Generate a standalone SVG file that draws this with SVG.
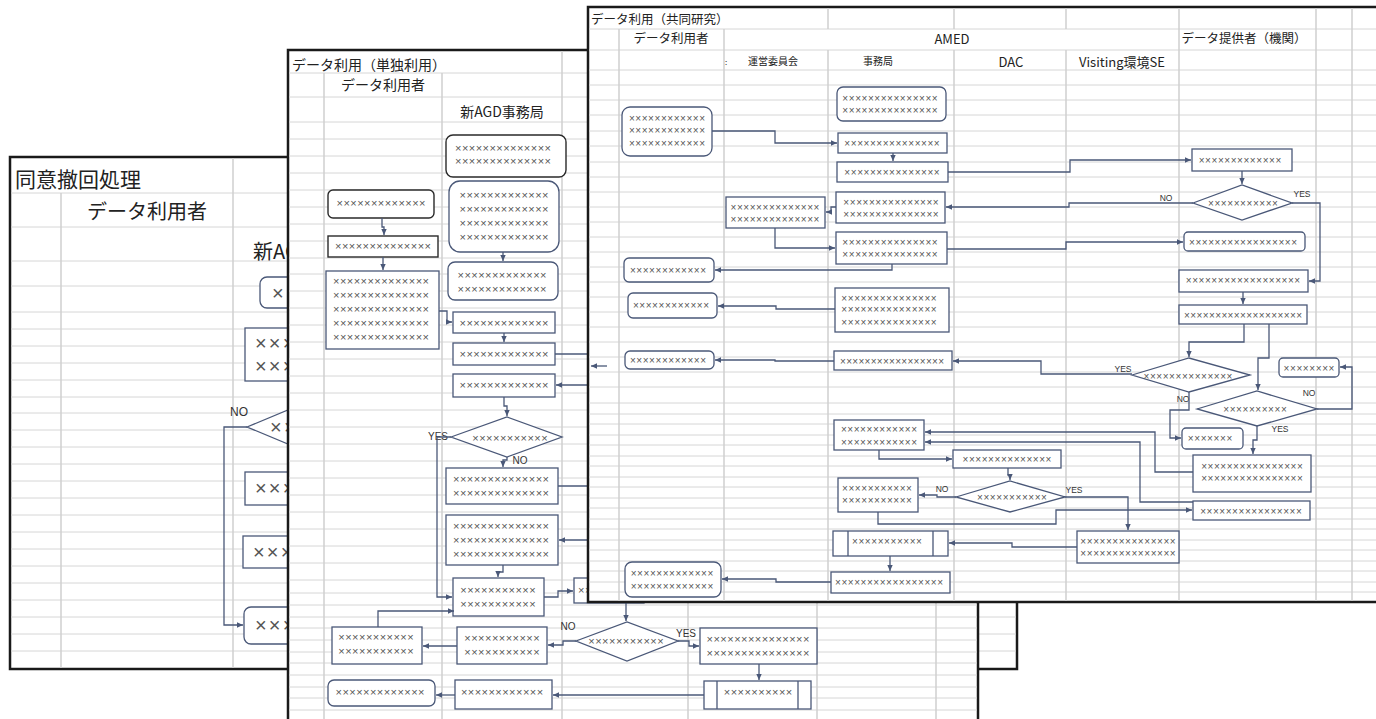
<svg xmlns="http://www.w3.org/2000/svg" width="1376" height="719" viewBox="0 0 1376 719">
<defs>
<style>
.sheet{fill:#fff;stroke:#1a1a1a;stroke-width:2.5}
.gr{fill:none;stroke:#d6d6d6;stroke-width:1}
.gc{fill:none;stroke:#d0d0d0;stroke-width:1.5}
.n{fill:#fff;stroke:#4a5878;stroke-width:1.3}
.nd{fill:#fff;stroke:#2a2a2a;stroke-width:1.4}
.c{fill:none;stroke:#4a5878;stroke-width:1.3}
.ca{fill:none;stroke:#4a5878;stroke-width:1.3;marker-end:url(#ah)}
.x{font-family:"Liberation Sans",Arial,sans-serif;fill:#555;text-anchor:middle;dominant-baseline:central}
.xs{font-size:10px}
.xm{font-size:11px}
.xb{font-size:20px;text-anchor:start}
.h{font-family:"Noto Sans CJK JP","Noto Sans",sans-serif;fill:#222;dominant-baseline:central}
.l{font-family:"Liberation Sans",Arial,sans-serif;fill:#333;text-anchor:middle;dominant-baseline:central}
</style>
<marker id="ah" markerWidth="7" markerHeight="7" refX="6" refY="3.5" orient="auto" markerUnits="userSpaceOnUse"><path d="M0,0.8 L6,3.5 L0,6.2 Z" fill="#4a5878"/></marker>
</defs>
<rect width="1376" height="719" fill="#fff"/>

<!-- ================= BACK SHEET ================= -->
<g id="sheet-back">
<rect class="sheet" x="10" y="157" width="1007" height="512"/>
<path class="gr" d="M11 193H1016M11 227H1016M11 261H1016M11 286H1016M11 312H1016M11 329H1016M11 346H1016M11 363H1016M11 380H1016M11 397H1016M11 413H1016M11 430H1016M11 447H1016M11 464H1016M11 481H1016M11 498H1016M11 515H1016M11 532H1016M11 549H1016M11 566H1016M11 583H1016M11 600H1016M11 617H1016M11 634H1016M11 651H1016"/>
<path class="gc" d="M61 193V668M233 158V668"/>
<text class="h" x="15" y="178" font-size="21">同意撤回処理</text>
<text class="h" x="147" y="210" font-size="20" text-anchor="middle">データ利用者</text>
<text class="h" x="253" y="250" font-size="20">新AGD</text>
<g id="back-n1"><rect class="n" x="260" y="277" width="150" height="31" rx="7"/><text class="x xb" x="272" y="293" textLength="39.9">×××</text></g>
<g id="back-n2"><rect class="n" x="245" y="328" width="170" height="53"/><text class="x xb" x="255" y="343" textLength="53.2">××××</text><text class="x xb" x="255" y="366" textLength="53.2">××××</text></g>
<g id="back-d1"><path class="n" d="M247 427L367 377L487 427L367 477Z"/><text class="x xb" x="270" y="427" textLength="39.9">×××</text></g>
<g id="back-n3"><rect class="n" x="245" y="472" width="170" height="33"/><text class="x xb" x="255" y="488" textLength="53.2">××××</text></g>
<g id="back-n4"><rect class="n" x="243" y="536" width="170" height="32"/><text class="x xb" x="253" y="552" textLength="53.2">××××</text></g>
<g id="back-n5"><rect class="n" x="244" y="607" width="170" height="37" rx="7"/><text class="x xb" x="255" y="625" textLength="53.2">××××</text></g>
<text class="l" x="239" y="412" font-size="12">NO</text>
<g id="back-connectors"><path class="ca" d="M247 427H224V625H243"/></g>
</g>

<!-- ================= MIDDLE SHEET ================= -->
<g id="sheet-middle">
<rect class="sheet" x="288" y="50" width="690" height="700"/>
<path class="gr" d="M289 73H977M289 97H977M289 122H977M289 139H977M289 156H977M289 173H977M289 190H977M289 207H977M289 224H977M289 241H977M289 258H977M289 274H977M289 291H977M289 308H977M289 325H977M289 342H977M289 359H977M289 376H977M289 393H977M289 410H977M289 427H977M289 444H977M289 461H977M289 478H977M289 495H977M289 512H977M289 529H977M289 546H977M289 563H977M289 580H977M289 593H977M289 605H977M289 617H977M289 628H977M289 640H977M289 652H977M289 663H977M289 675H977M289 687H977M289 698H977M289 710H977"/>
<path class="gc" d="M324 73V719M442 73V719M562 51V719M688 51V719M817 51V719M936 51V719"/>
<text class="h" x="292" y="64" font-size="14">データ利用（単独利用）</text>
<text class="h" x="383" y="84" font-size="14" text-anchor="middle">データ利用者</text>
<text class="h" x="502" y="111" font-size="14" text-anchor="middle">新AGD事務局</text>

<g id="mid-m1"><rect class="nd" x="446" y="135" width="120" height="42" rx="7"/><text class="x xm" x="503" y="148" textLength="95.9">××××××××××××××</text><text class="x xm" x="503" y="161" textLength="95.9">××××××××××××××</text></g>
<g id="mid-m2"><rect class="n" x="449" y="181" width="110" height="71" rx="11"/><text class="x xm" x="504" y="195" textLength="89">×××××××××××××</text><text class="x xm" x="504" y="209" textLength="89">×××××××××××××</text><text class="x xm" x="504" y="223" textLength="89">×××××××××××××</text><text class="x xm" x="504" y="237" textLength="89">×××××××××××××</text></g>
<g id="mid-m3"><rect class="n" x="448" y="262" width="110" height="38" rx="7"/><text class="x xm" x="502" y="275" textLength="89">×××××××××××××</text><text class="x xm" x="502" y="289" textLength="89">×××××××××××××</text></g>
<g id="mid-m4"><rect class="n" x="453" y="312" width="102" height="21"/><text class="x xm" x="504" y="323" textLength="89">×××××××××××××</text></g>
<g id="mid-u1"><rect class="nd" x="328" y="190" width="106" height="28" rx="5"/><text class="x xm" x="381" y="203" textLength="89">×××××××××××××</text></g>
<g id="mid-u2"><rect class="nd" x="328" y="236" width="110" height="21"/><text class="x xm" x="383" y="246" textLength="95.9">××××××××××××××</text></g>
<g id="mid-u3"><rect class="n" x="326" y="271" width="113" height="78"/><text class="x xm" x="381" y="281" textLength="95.9">××××××××××××××</text><text class="x xm" x="381" y="295" textLength="95.9">××××××××××××××</text><text class="x xm" x="381" y="309" textLength="95.9">××××××××××××××</text><text class="x xm" x="381" y="323" textLength="95.9">××××××××××××××</text><text class="x xm" x="381" y="337" textLength="95.9">××××××××××××××</text></g>
<g id="mid-m5"><rect class="n" x="453" y="343" width="102" height="22"/><text class="x xm" x="504" y="354" textLength="89">×××××××××××××</text></g>
<g id="mid-m6"><rect class="n" x="453" y="374" width="102" height="23"/><text class="x xm" x="504" y="385" textLength="89">×××××××××××××</text></g>
<g id="mid-d1"><path class="n" d="M451 437L507 417L562 437L507 457Z"/><text class="x xm" x="510" y="438" textLength="75.4">×××××××××××</text></g>
<g id="mid-m7"><rect class="n" x="446" y="468" width="112" height="36"/><text class="x xm" x="501" y="479" textLength="95.9">××××××××××××××</text><text class="x xm" x="501" y="493" textLength="95.9">××××××××××××××</text></g>
<g id="mid-m8"><rect class="n" x="446" y="515" width="112" height="50"/><text class="x xm" x="501" y="526" textLength="95.9">××××××××××××××</text><text class="x xm" x="501" y="540" textLength="95.9">××××××××××××××</text><text class="x xm" x="501" y="554" textLength="95.9">××××××××××××××</text></g>
<g id="mid-m9"><rect class="n" x="453" y="578" width="91" height="38"/><text class="x xm" x="498" y="590" textLength="75.4">×××××××××××</text><text class="x xm" x="498" y="604" textLength="75.4">×××××××××××</text></g>
<g id="mid-m10"><rect class="n" x="574" y="578" width="70" height="25"/><text class="x xm" x="609" y="590" textLength="62">×××××××××</text></g>
<g id="mid-l1"><rect class="n" x="332" y="627" width="90" height="37"/><text class="x xm" x="376" y="637" textLength="75.4">×××××××××××</text><text class="x xm" x="376" y="651" textLength="75.4">×××××××××××</text></g>
<g id="mid-l2"><rect class="n" x="457" y="627" width="90" height="37"/><text class="x xm" x="502" y="638" textLength="75.4">×××××××××××</text><text class="x xm" x="502" y="652" textLength="75.4">×××××××××××</text></g>
<g id="mid-d2"><path class="n" d="M576 641L627 622L678 641L627 661Z"/><text class="x xm" x="626" y="641" textLength="75.4">×××××××××××</text></g>
<g id="mid-r1"><rect class="n" x="700" y="628" width="117" height="36"/><text class="x xm" x="758" y="639" textLength="102.8">×××××××××××××××</text><text class="x xm" x="758" y="653" textLength="102.8">×××××××××××××××</text></g>
<g id="mid-r2"><rect class="n" x="704" y="681" width="107" height="28"/><path class="c" d="M717 681V709M798 681V709"/><text class="x xm" x="758" y="692" textLength="68.5">××××××××××</text></g>
<g id="mid-l3"><rect class="n" x="455" y="680" width="97" height="29"/><text class="x xm" x="502" y="692" textLength="82.2">××××××××××××</text></g>
<g id="mid-l4"><rect class="n" x="328" y="680" width="107" height="26" rx="6"/><text class="x xm" x="380" y="692" textLength="89">×××××××××××××</text></g>
<text class="l" x="438" y="436" font-size="10">YES</text>
<text class="l" x="520" y="460" font-size="10">NO</text>
<text class="l" x="568" y="626" font-size="10">NO</text>
<text class="l" x="686" y="633" font-size="10">YES</text>
<g id="mid-connectors">
<path class="ca" d="M382 218V227H384V235"/>
<path class="ca" d="M383 257V270"/>
<path class="ca" d="M439 311H447V322H452"/>
<path class="ca" d="M503 252V261"/>
<path class="ca" d="M504 333V342"/>
<path class="c" d="M555 354H600"/>
<path class="ca" d="M600 385H556"/>
<path class="ca" d="M504 397V406H507V416"/>
<path class="ca" d="M507 457V460H503V467"/>
<path class="c" d="M558 486H600"/>
<path class="ca" d="M600 540H559"/>
<path class="ca" d="M503 565V572H498V577"/>
<path class="ca" d="M451 437H437V597H452"/>
<path class="ca" d="M544 597H558V591H573"/>
<path class="ca" d="M378 627V611H454"/>
<path class="ca" d="M457 646H423"/>
<path class="ca" d="M576 641H563V645H548"/>
<path class="ca" d="M626 590V621"/>
<path class="ca" d="M678 641H689V646H699"/>
<path class="ca" d="M759 664V680"/>
<path class="ca" d="M704 695H553"/>
<path class="ca" d="M455 695H436"/>
</g>
</g>

<!-- ================= FRONT SHEET ================= -->
<g id="sheet-front">
<rect class="sheet" x="588" y="7" width="800" height="595"/>
<path class="gr" d="M589 29H1376M589 50H1376M589 70H1376M589 85H1376M589 100H1376M589 115H1376M589 131H1376M589 146H1376M589 162H1376M589 177H1376M589 192H1376M589 207H1376M589 222H1376M589 237H1376M589 252H1376M589 267H1376M589 282H1376M589 297H1376M589 312H1376M589 327H1376M589 342H1376M589 357H1376M589 372H1376M589 387H1376M589 403H1376M589 414H1376M589 424H1376M589 435H1376M589 445H1376M589 456H1376M589 466H1376M589 477H1376M589 487H1376M589 498H1376M589 508H1376M589 519H1376M589 529H1376M589 540H1376M589 550H1376M589 561H1376M589 571H1376M589 582H1376M589 592H1376"/>
<path class="gc" d="M619 29V601M724 29V601M828 8V29M828 50V601M954 8V29M954 50V601M1066 8V29M1066 50V601M1179 8V601M1316 8V601M1352 8V601"/>
<text class="h" x="591" y="18" font-size="12.5">データ利用（共同研究）</text>
<text class="h" x="671" y="37" font-size="12.5" text-anchor="middle">データ利用者</text>
<text class="h" x="952" y="38" font-size="13" text-anchor="middle">AMED</text>
<text class="h" x="1244" y="37" font-size="12.5" text-anchor="middle">データ提供者（機関）</text>
<text class="h" x="725" y="61" font-size="8">:</text>
<text class="h" x="773" y="60" font-size="10" text-anchor="middle">運営委員会</text>
<text class="h" x="878" y="60" font-size="10" text-anchor="middle">事務局</text>
<text class="h" x="1011" y="61" font-size="13" text-anchor="middle">DAC</text>
<text class="h" x="1122" y="61" font-size="13" text-anchor="middle">Visiting環境SE</text>

<g id="fr-f1"><rect class="n" x="837" y="87" width="109" height="34" rx="6"/><text class="x xs" x="890" y="98" textLength="95.3">×××××××××××××××</text><text class="x xs" x="890" y="110" textLength="95.3">×××××××××××××××</text></g>
<g id="fr-u1"><rect class="n" x="622" y="107" width="90" height="49" rx="8"/><text class="x xs" x="667" y="118" textLength="76.2">××××××××××××</text><text class="x xs" x="667" y="130" textLength="76.2">××××××××××××</text><text class="x xs" x="667" y="143" textLength="76.2">××××××××××××</text></g>
<g id="fr-f3"><rect class="n" x="838" y="133" width="109" height="20"/><text class="x xs" x="892" y="143" textLength="95.3">×××××××××××××××</text></g>
<g id="fr-f4"><rect class="n" x="837" y="162" width="111" height="20"/><text class="x xs" x="892" y="172" textLength="95.3">×××××××××××××××</text></g>
<g id="fr-p1"><rect class="n" x="1192" y="149" width="100" height="22"/><text class="x xs" x="1240" y="160" textLength="82.6">×××××××××××××</text></g>
<g id="fr-pd1"><path class="n" d="M1193 203L1242 185L1292 203L1242 220Z"/><text class="x xs" x="1243" y="203" textLength="69.9">×××××××××××</text></g>
<g id="fr-f5"><rect class="n" x="836" y="192" width="109" height="31"/><text class="x xs" x="891" y="202" textLength="95.3">×××××××××××××××</text><text class="x xs" x="891" y="214" textLength="95.3">×××××××××××××××</text></g>
<g id="fr-k1"><rect class="n" x="726" y="197" width="99" height="31"/><text class="x xs" x="775" y="207" textLength="88.9">××××××××××××××</text><text class="x xs" x="775" y="219" textLength="88.9">××××××××××××××</text></g>
<g id="fr-f6"><rect class="n" x="836" y="232" width="111" height="32"/><text class="x xs" x="890" y="242" textLength="95.3">×××××××××××××××</text><text class="x xs" x="890" y="254" textLength="95.3">×××××××××××××××</text></g>
<g id="fr-p2"><rect class="n" x="1184" y="232" width="121" height="19" rx="4"/><text class="x xs" x="1243" y="242" textLength="108">×××××××××××××××××</text></g>
<g id="fr-u2"><rect class="n" x="624" y="258" width="90" height="24" rx="5"/><text class="x xs" x="668" y="270" textLength="76.2">××××××××××××</text></g>
<g id="fr-f8"><rect class="n" x="835" y="288" width="114" height="44"/><text class="x xs" x="889" y="298" textLength="95.3">×××××××××××××××</text><text class="x xs" x="889" y="309" textLength="95.3">×××××××××××××××</text><text class="x xs" x="889" y="322" textLength="95.3">×××××××××××××××</text></g>
<g id="fr-u3"><rect class="n" x="628" y="293" width="89" height="25" rx="5"/><text class="x xs" x="671" y="305" textLength="76.2">××××××××××××</text></g>
<g id="fr-p3"><rect class="n" x="1179" y="270" width="129" height="22"/><text class="x xs" x="1243" y="280" textLength="114.3">××××××××××××××××××</text></g>
<g id="fr-p4"><rect class="n" x="1179" y="305" width="128" height="19"/><text class="x xs" x="1243" y="315" textLength="118">×××××××××××××××××××</text></g>
<g id="fr-f7"><rect class="n" x="834" y="351" width="118" height="19"/><text class="x xs" x="892" y="361" textLength="104">×××××××××××××××××</text></g>
<g id="fr-u4"><rect class="n" x="625" y="351" width="89" height="18" rx="5"/><text class="x xs" x="668" y="360" textLength="76.2">××××××××××××</text></g>
<g id="fr-pd2"><path class="n" d="M1132 375L1189 358L1250 375L1189 392Z"/><text class="x xs" x="1188" y="376" textLength="88.9">××××××××××××××</text></g>
<g id="fr-p5"><rect class="n" x="1279" y="358" width="60" height="19" rx="4"/><text class="x xs" x="1309" y="368" textLength="50.8">××××××××</text></g>
<g id="fr-pd3"><path class="n" d="M1197 409L1257 391L1317 409L1257 426Z"/><text class="x xs" x="1255" y="409" textLength="63.5">××××××××××</text></g>
<g id="fr-p6"><rect class="n" x="1182" y="428" width="61" height="21" rx="4"/><text class="x xs" x="1210" y="438" textLength="44.5">×××××××</text></g>
<g id="fr-p7"><rect class="n" x="1193" y="455" width="118" height="37"/><text class="x xs" x="1252" y="466" textLength="101.6">××××××××××××××××</text><text class="x xs" x="1252" y="478" textLength="101.6">××××××××××××××××</text></g>
<g id="fr-p8"><rect class="n" x="1193" y="501" width="117" height="19"/><text class="x xs" x="1251" y="511" textLength="101.6">××××××××××××××××</text></g>
<g id="fr-f9"><rect class="n" x="834" y="420" width="90" height="30"/><text class="x xs" x="879" y="429" textLength="76.2">××××××××××××</text><text class="x xs" x="879" y="442" textLength="76.2">××××××××××××</text></g>
<g id="fr-f10"><rect class="n" x="953" y="450" width="108" height="18"/><text class="x xs" x="1007" y="459" textLength="88.9">××××××××××××××</text></g>
<g id="fr-fd"><path class="n" d="M956 497L1010 481L1065 497L1010 512Z"/><text class="x xs" x="1012" y="497" textLength="69.9">×××××××××××</text></g>
<g id="fr-f11"><rect class="n" x="838" y="478" width="80" height="34"/><text class="x xs" x="877" y="488" textLength="69.9">×××××××××××</text><text class="x xs" x="877" y="500" textLength="69.9">×××××××××××</text></g>
<g id="fr-f12"><rect class="n" x="1077" y="531" width="102" height="32"/><text class="x xs" x="1128" y="541" textLength="95.3">×××××××××××××××</text><text class="x xs" x="1128" y="553" textLength="95.3">×××××××××××××××</text></g>
<g id="fr-f13"><rect class="n" x="833" y="531" width="115" height="25"/><path class="c" d="M848 531V556M933 531V556"/><text class="x xs" x="887" y="541" textLength="69.9">×××××××××××</text></g>
<g id="fr-f14"><rect class="n" x="831" y="572" width="119" height="21"/><text class="x xs" x="889" y="582" textLength="108">×××××××××××××××××</text></g>
<g id="fr-u5"><rect class="n" x="625" y="562" width="96" height="35" rx="7"/><text class="x xs" x="672" y="573" textLength="82.6">×××××××××××××</text><text class="x xs" x="672" y="586" textLength="82.6">×××××××××××××</text></g>
<text class="l" x="1166" y="198" font-size="8.5">NO</text>
<text class="l" x="1302" y="194" font-size="8.5">YES</text>
<text class="l" x="1123" y="369" font-size="8.5">YES</text>
<text class="l" x="1183" y="399" font-size="8.5">NO</text>
<text class="l" x="1309" y="393" font-size="8.5">NO</text>
<text class="l" x="1280" y="429" font-size="8.5">YES</text>
<text class="l" x="942" y="489" font-size="8.5">NO</text>
<text class="l" x="1074" y="490" font-size="8.5">YES</text>
<g id="front-connectors">
<path class="ca" d="M712 131H775V143H837"/>
<path class="ca" d="M893 153V161"/>
<path class="ca" d="M948 172H1070V160H1191"/>
<path class="ca" d="M1242 171V184"/>
<path class="ca" d="M1193 203H1069V207H946"/>
<path class="ca" d="M1292 203H1320V281H1309"/>
<path class="ca" d="M836 207H831V212H826"/>
<path class="ca" d="M775 228V248H835"/>
<path class="ca" d="M947 249H1066V242H1183"/>
<path class="ca" d="M892 264V270H715"/>
<path class="ca" d="M835 309H776V306H718"/>
<path class="ca" d="M1243 292V304"/>
<path class="ca" d="M1244 324V342H1189V357"/>
<path class="ca" d="M1269 324V358H1258V390"/>
<path class="ca" d="M1132 374H1041V361H953"/>
<path class="ca" d="M834 361H775V360H715"/>
<path class="ca" d="M1189 392V410H1170V438H1181"/>
<path class="ca" d="M1317 409H1352V367H1340"/>
<path class="ca" d="M1257 426V440H1253V454"/>
<path class="ca" d="M1193 472H1155V432H925"/>
<path class="ca" d="M1193 502H1140V442H925"/>
<path class="ca" d="M879 450V459H952"/>
<path class="ca" d="M1008 468V475H1010V480"/>
<path class="ca" d="M956 497H937V495H919"/>
<path class="ca" d="M1065 497H1128V530"/>
<path class="ca" d="M878 512V524H1056V510H1192"/>
<path class="ca" d="M1077 547H1012V543H949"/>
<path class="ca" d="M890 556V571"/>
<path class="ca" d="M831 582H776V579H722"/>
<path class="ca" d="M607 366H591"/>
</g>
</g>
</svg>
